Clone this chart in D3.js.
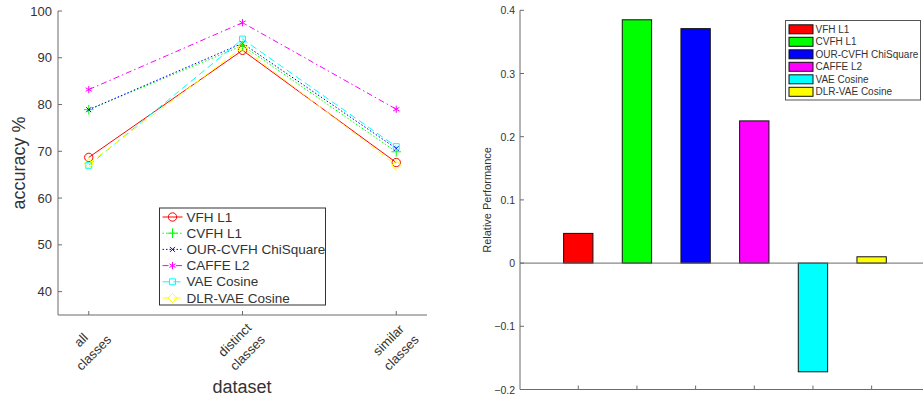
<!DOCTYPE html>
<html>
<head>
<meta charset="utf-8">
<script src="https://cdn.jsdelivr.net/npm/d3@7"></script>
<style>
  body { margin: 0; background: #fff; }
  svg { display: block; font-family: 'Liberation Sans', Arial, sans-serif; }
</style>
</head>
<body>
<svg id="chart" width="923" height="399"></svg>
<script>
// categories on the left chart
const categories = [['all', 'classes'], ['distinct', 'classes'], ['similar', 'classes']]
const methods = ['VFH L1', 'CVFH L1', 'OUR-CVFH ChiSquare', 'CAFFE L2', 'VAE Cosine', 'DLR-VAE Cosine']
const colors = ['#ff0000', '#00ff00', '#0000ff', '#ff00ff', '#00ffff', '#ffff00']

// accuracy % per method: all / distinct / similar
const vfhL1 = [68.7, 91.6, 67.6]
const cvfhL1 = [78.9, 92.6, 69.9]
const ourCvfh = [78.9, 93.1, 70.6]
const caffeL2 = [83.2, 97.5, 79.0]
const vaeCos = [67.0, 94.0, 71.0]
const dlrVae = [67.4, 92.2, 67.0]

// relative performance per method
const relPerf = [0.047, 0.385, 0.371, 0.225, -0.172, 0.010]

const leftTicks = [40, 50, 60, 70, 80, 90, 100]
const rightTicks = [-0.2, -0.1, 0, 0.1, 0.2, 0.3, 0.4]

const dashes = [null, '1.5,2', '1.5,2', '6,3,1.5,3', '7,4', '7,4']
const symbols = [d3.symbolCircle, d3.symbolPlus, d3.symbolTimes, d3.symbolAsterisk, d3.symbolSquare2, d3.symbolDiamond2]
const symSizes = [55, 32, 18, 36, 45, 55]

const axisColor = '#6b6b6b'
const textColor = '#333'

const svg = d3.select('#chart')
const series = [vfhL1, cvfhL1, ourCvfh, caffeL2, vaeCos, dlrVae]

drawLeft()
drawRight()

function drawLeft() {
  const x = d3.scaleLinear().domain([0.8, 3.2]).range([58, 427])
  const y = d3.scaleLinear().domain([35, 100]).range([315, 11])
  const g = svg.append('g')

  g.append('line').attr('x1', 58).attr('x2', 58).attr('y1', 11).attr('y2', 315)
    .attr('stroke', axisColor)
  g.append('line').attr('x1', 58).attr('x2', 427).attr('y1', 315).attr('y2', 315)
    .attr('stroke', axisColor)

  g.selectAll('.ytick').data(leftTicks).join('line')
    .attr('x1', 58).attr('x2', 62)
    .attr('y1', (d) => y(d)).attr('y2', (d) => y(d))
    .attr('stroke', axisColor)
  g.selectAll('.ylab').data(leftTicks).join('text')
    .attr('x', 52).attr('y', (d) => y(d))
    .attr('text-anchor', 'end').attr('dominant-baseline', 'central')
    .attr('font-size', 13).attr('fill', textColor)
    .text((d) => d)

  g.selectAll('.xtick').data(categories).join('line')
    .attr('x1', (d, i) => x(i + 1)).attr('x2', (d, i) => x(i + 1))
    .attr('y1', 315).attr('y2', 311)
    .attr('stroke', axisColor)

  const lab = g.selectAll('.xlab').data(categories).join('g')
    .attr('transform', (d, i) => `translate(${x(i + 1)},318) rotate(-45)`)
  lab.each(function (d) {
    d3.select(this).selectAll('text').data(d).join('text')
      .attr('x', -21).attr('y', (t, j) => 14.5 + j * 18)
      .attr('text-anchor', 'middle')
      .attr('font-size', 13).attr('fill', textColor)
      .text((t) => t)
  })

  g.append('text').attr('x', 242).attr('y', 393)
    .attr('text-anchor', 'middle').attr('font-size', 18).attr('fill', textColor)
    .text('dataset')
  g.append('text')
    .attr('transform', 'translate(25,163) rotate(-90)')
    .attr('text-anchor', 'middle').attr('font-size', 18).attr('fill', textColor)
    .text('accuracy %')

  const line = d3.line().x((d, i) => x(i + 1)).y((d) => y(d))
  series.forEach((vals, k) => {
    g.append('path').attr('d', line(vals))
      .attr('fill', 'none').attr('stroke', colors[k]).attr('stroke-width', 1)
      .attr('stroke-dasharray', dashes[k])
    g.selectAll(null).data(vals).join('path')
      .attr('transform', (d, i) => `translate(${x(i + 1)},${y(d)})`)
      .attr('d', d3.symbol(symbols[k], symSizes[k]))
      .attr('fill', 'none').attr('stroke', colors[k]).attr('stroke-width', 1)
  })

  // legend
  const lg = g.append('g').attr('transform', 'translate(159.5,208)')
  lg.append('rect').attr('width', 166).attr('height', 97)
    .attr('fill', '#fff').attr('stroke', '#333').attr('stroke-width', 1)
  methods.forEach((m, k) => {
    const yy = 9 + k * 16.2
    lg.append('line').attr('x1', 3).attr('x2', 23).attr('y1', yy).attr('y2', yy)
      .attr('stroke', colors[k]).attr('stroke-dasharray', dashes[k])
    lg.append('path').attr('transform', `translate(13,${yy})`)
      .attr('d', d3.symbol(symbols[k], symSizes[k]))
      .attr('fill', 'none').attr('stroke', colors[k])
    lg.append('text').attr('x', 27).attr('y', yy)
      .attr('dominant-baseline', 'central').attr('font-size', 13.5).attr('fill', textColor)
      .text(m)
  })
}

function drawRight() {
  const x = d3.scaleLinear().domain([0, 7]).range([519.6, 930.3])
  const y = d3.scaleLinear().domain([-0.2, 0.4]).range([389.5, 10.3])
  const g = svg.append('g')

  g.append('line').attr('x1', 520).attr('x2', 520).attr('y1', 10.3).attr('y2', 389.5)
    .attr('stroke', axisColor)
  g.append('line').attr('x1', 520).attr('x2', 930).attr('y1', 389.5).attr('y2', 389.5)
    .attr('stroke', axisColor)

  g.selectAll('.ytick').data(rightTicks).join('line')
    .attr('x1', 520).attr('x2', 524)
    .attr('y1', (d) => y(d)).attr('y2', (d) => y(d))
    .attr('stroke', axisColor)
  g.selectAll('.ylab').data(rightTicks).join('text')
    .attr('x', 515).attr('y', (d) => y(d))
    .attr('text-anchor', 'end').attr('dominant-baseline', 'central')
    .attr('font-size', 10.5).attr('fill', textColor)
    .text((d) => (d === 0 ? '0' : d3.format('.1f')(d)))

  g.selectAll('.xtick').data(relPerf).join('line')
    .attr('x1', (d, i) => x(i + 1)).attr('x2', (d, i) => x(i + 1))
    .attr('y1', 389.5).attr('y2', 385.5)
    .attr('stroke', axisColor)

  g.append('text')
    .attr('transform', `translate(491,${y(0.1)}) rotate(-90)`)
    .attr('text-anchor', 'middle').attr('font-size', 11).attr('fill', textColor)
    .text('Relative Performance')

  const bw = x(0.5) - x(0)
  g.selectAll('.bar').data(relPerf).join('rect')
    .attr('x', (d, i) => x(i + 1) - bw / 2)
    .attr('width', bw)
    .attr('y', (d) => y(Math.max(0, d)))
    .attr('height', (d) => Math.abs(y(d) - y(0)))
    .attr('fill', (d, i) => colors[i])
    .attr('stroke', '#111').attr('stroke-width', 1)

  // baseline
  g.append('line').attr('x1', 520).attr('x2', 930).attr('y1', y(0)).attr('y2', y(0))
    .attr('stroke', axisColor)

  const lg = g.append('g').attr('transform', 'translate(785.5,20.5)')
  lg.append('rect').attr('width', 135).attr('height', 79.5)
    .attr('fill', '#fff').attr('stroke', '#555')
  methods.forEach((m, k) => {
    const yy = 8.8 + k * 12.5
    lg.append('rect').attr('x', 3.5).attr('y', yy - 4.5).attr('width', 24).attr('height', 9)
      .attr('fill', colors[k]).attr('stroke', '#111')
    lg.append('text').attr('x', 30).attr('y', yy)
      .attr('dominant-baseline', 'central').attr('font-size', 10).attr('fill', textColor)
      .text(m)
  })
}
</script>
</body>
</html>
